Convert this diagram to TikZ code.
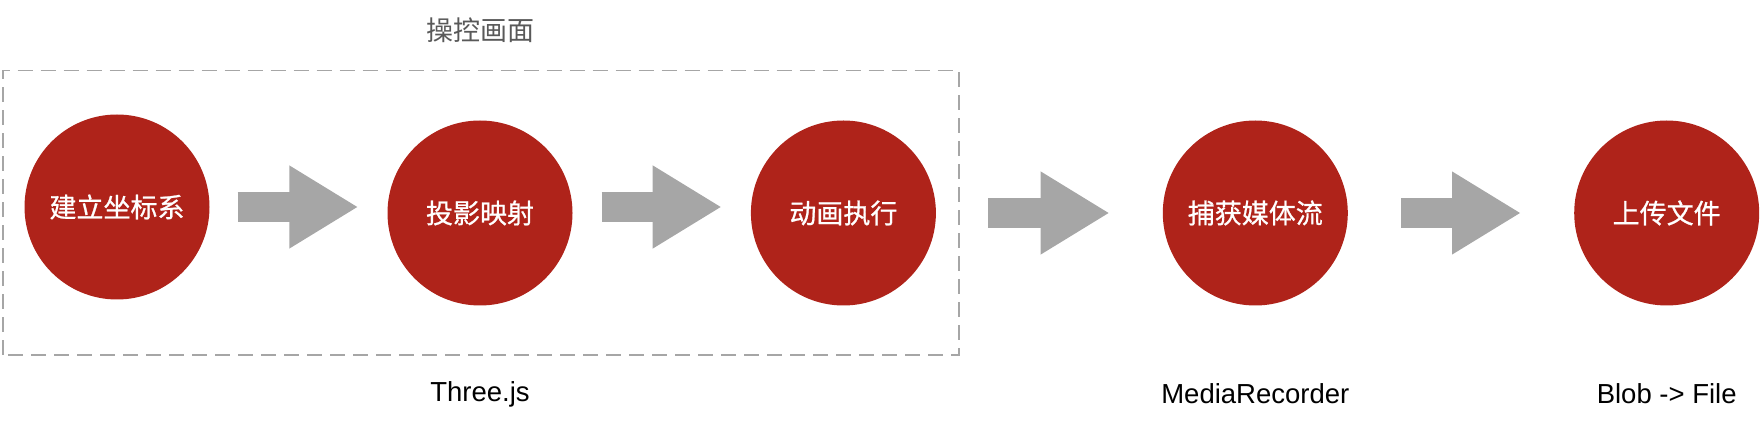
\documentclass[tikz,border=0pt]{standalone}
\usepackage{fontspec}
\setmainfont{Liberation Sans}
\newfontfamily\cjk{Noto Sans CJK SC}
\newfontfamily\cjkmed[FakeBold=0.8]{Noto Sans CJK SC}
\usetikzlibrary{arrows.meta,positioning}
\definecolor{cred}{HTML}{AF231A}
\definecolor{cgray}{HTML}{A6A6A6}
\definecolor{ctext}{HTML}{595959}

\begin{document}
\begin{tikzpicture}[x=1pt,y=1pt,
  stage/.style={circle,fill=cred,minimum size=185pt,inner sep=0pt,text=white,
    font=\cjkmed\fontsize{27}{32}\selectfont},
  flow/.style={cgray,line width=30pt,-{Triangle[length=69pt,width=78pt]}},
  lib/.style={font=\fontsize{27.5}{32}\selectfont}]
\useasboundingbox (0,0) rectangle (1760,420);

% stages
\node[stage] (coord) at (117,213) {建立坐标系};
\node[stage] (proj) at (480,207) {投影映射};
\node[stage,right=178pt of proj] (anim) {动画执行};
\node[stage,right=226.5pt of anim] (capt) {捕获媒体流};
\node[stage,right=226pt of capt] (upld) {上传文件};

% block arrows
\draw[flow,shorten <=28pt,shorten >=29pt] (coord.east) -- (coord.east -| proj.west);
\draw[flow,shorten <=29pt,shorten >=29pt] (proj.east |- coord.east) -- (coord.east -| anim.west);
\draw[flow,shorten <=52pt,shorten >=53pt] (anim.east) -- (capt.west);
\draw[flow,shorten <=53pt,shorten >=53pt] (capt.east) -- (upld.west);

% three.js group
\draw[cgray,line width=1.5pt,dash pattern=on 15pt off 8pt] (3,65) rectangle (959,349.3);
\coordinate (top) at (0,389.5);
\node[text=ctext,font=\cjk\fontsize{27}{32}\selectfont] (title) at (proj |- top) {操控画面};

% libraries
\coordinate (base) at (0,26);
\node[lib] (three) at (proj |- base) {Three.js};
\node[lib] (media) at (capt |- base) {MediaRecorder};
\node[lib] (blob) at (upld |- base) {Blob -> File};
\end{tikzpicture}
\end{document}
